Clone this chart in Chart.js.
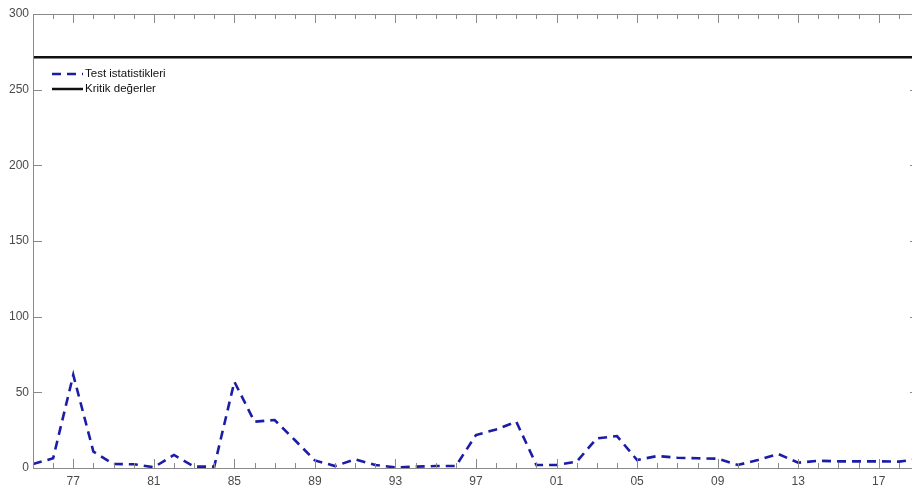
<!DOCTYPE html>
<html>
<head>
<meta charset="utf-8">
<script src="https://cdn.jsdelivr.net/npm/chart.js@4/dist/chart.umd.min.js"></script>
<style>
  html, body { margin: 0; padding: 0; background: #fff; overflow: hidden; }
  #wrap { width: 922px; height: 489px; position: relative; }
</style>
</head>
<body>
<div id="wrap"><canvas id="chart"></canvas></div>
<script>
const years = [1975, 1976, 1977, 1978, 1979, 1980, 1981, 1982, 1983, 1984,
  1985, 1986, 1987, 1988, 1989, 1990, 1991, 1992, 1993, 1994,
  1995, 1996, 1997, 1998, 1999, 2000, 2001, 2002, 2003, 2004,
  2005, 2006, 2007, 2008, 2009, 2010, 2011, 2012, 2013, 2014,
  2015, 2016, 2017, 2018, 2019];
const testStats = [2.6, 6.4, 61.5, 10.8, 2.6, 2.5, 0.5, 8.6, 0.9, 0.9,
  57, 30.6, 31.7, 18.5, 5, 1.3, 5.7, 2, 0.4, 0.9,
  1.3, 1.3, 21.8, 25.5, 30.6, 2, 2, 4.2, 19.6, 21.1,
  5.3, 7.9, 6.8, 6.4, 6.2, 2, 5.3, 9.3, 3.5, 4.8,
  4.4, 4.4, 4.4, 4.2, 6];
const criticalValue = 271.5;
const yTicks = [0, 50, 100, 150, 200, 250, 300];
const labelYears = [1977, 1981, 1985, 1989, 1993, 1997, 2001, 2005, 2009, 2013, 2017];

const seriesLabels = ['Test istatistikleri', 'Kritik değerler'];

const FONT = '"Liberation Sans", Arial, sans-serif';
const axisColor = '#8a8a8a';
const labelColor = '#4a4a4a';

// MATLAB-like box with inward ticks on all sides + legend in top-left
const boxPlugin = {
  id: 'box',
  afterDatasetsDraw(chart) {
    const { ctx, chartArea: a, scales: { x, y } } = chart;
    ctx.save();
    ctx.strokeStyle = axisColor;
    ctx.lineWidth = 1;
    ctx.strokeRect(a.left + 0.5, a.top + 0.5, a.right - a.left, a.bottom - a.top);
    ctx.beginPath();
    for (let v = x.min; v <= x.max; v++) {
      const px = Math.round(x.getPixelForValue(v)) + 0.5;
      const len = labelYears.includes(v) ? 9 : 5;
      ctx.moveTo(px, a.bottom); ctx.lineTo(px, a.bottom - len);
      ctx.moveTo(px, a.top); ctx.lineTo(px, a.top + len);
    }
    yTicks.forEach(v => {
      const py = Math.round(y.getPixelForValue(v)) + 0.5;
      ctx.moveTo(a.left, py); ctx.lineTo(a.left + 9, py);
      ctx.moveTo(a.right, py); ctx.lineTo(a.right - 9, py);
    });
    ctx.stroke();

    // legend
    const lx = a.left + 19, ly = a.top + 60;
    const items = chart.data.datasets;
    ctx.font = '11.5px ' + FONT;
    ctx.textBaseline = 'middle';
    items.forEach((ds, i) => {
      const yy = ly + i * 15;
      ctx.beginPath();
      ctx.strokeStyle = ds.borderColor;
      ctx.lineWidth = ds.borderWidth;
      ctx.setLineDash(ds.borderDash || []);
      ctx.moveTo(lx, yy); ctx.lineTo(lx + 31, yy);
      ctx.stroke();
      ctx.setLineDash([]);
      ctx.fillStyle = '#111';
      ctx.fillText(ds.label, lx + 33, yy);
    });
    ctx.restore();
  }
};

new Chart(document.getElementById('chart'), {
  type: 'line',
  data: {
    datasets: [
      {
        label: seriesLabels[0],
        data: years.map((yr, i) => ({ x: yr, y: testStats[i] })),
        borderColor: '#1c1ca6',
        borderWidth: 2.6,
        borderDash: [9, 6],
        pointRadius: 0,
        tension: 0
      },
      {
        label: seriesLabels[1],
        data: years.map(yr => ({ x: yr, y: criticalValue })),
        borderColor: '#111111',
        borderWidth: 2.5,
        pointRadius: 0,
        tension: 0
      }
    ]
  },
  plugins: [boxPlugin],
  options: {
    responsive: true,
    maintainAspectRatio: false,
    animation: false,
    layout: { padding: { top: 14, right: 3, left: 0, bottom: 0 } },
    plugins: {
      legend: { display: false },
      tooltip: { enabled: false }
    },
    scales: {
      x: {
        type: 'linear',
        min: 1975,
        max: 2019,
        afterFit(s) { s.height = 21; },
        afterBuildTicks(s) { s.ticks = labelYears.map(v => ({ value: v })); },
        grid: { display: false, drawTicks: false },
        border: { display: false },
        ticks: {
          autoSkip: false,
          maxRotation: 0,
          padding: 6,
          color: labelColor,
          font: { family: FONT, size: 12 },
          callback: v => String(v % 100).padStart(2, '0')
        }
      },
      y: {
        min: 0,
        max: 300,
        afterFit(s) { s.width = 33; },
        afterBuildTicks(s) { s.ticks = yTicks.map(v => ({ value: v })); },
        grid: { display: false, drawTicks: false },
        border: { display: false },
        ticks: {
          padding: 4,
          color: labelColor,
          font: { family: FONT, size: 12 }
        }
      }
    }
  }
});
</script>
</body>
</html>
